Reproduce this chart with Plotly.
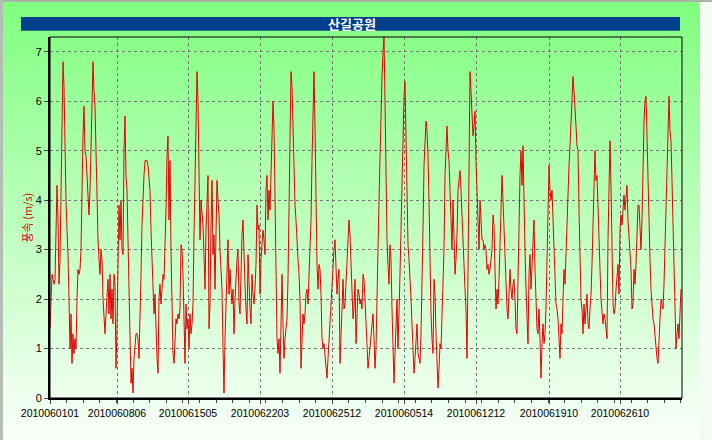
import plotly.graph_objects as go

# ---- data (wind speed, m/s), one value per hour-step ----
speed_part1 = [1.4,2.0,2.5,2.4,2.3,2.4,3.2,4.3,3.6,2.3,
 2.8,4.5,6.3,6.8,6.3,5.0,4.0,3.4,2.9,2.0,
 1.0,1.7,0.7,1.3,0.9,1.2,1.0,2.0,2.6,2.5,
 2.6,3.0,4.3,5.3,5.9,5.0,4.9,4.4,4.0,3.7,
 4.2,5.0,5.8,6.8,6.2,5.9,5.0,4.0,3.2,2.8,
 2.5,3.0,2.8,2.0,1.5,1.3,1.7,2.2,2.4,1.7,
 2.5,1.6,2.2,1.5,2.5,2.3,0.6,1.4,2.6,3.9,
 3.2,4.0,3.0,2.9,5.0,5.7,4.5,4.2,3.2,2.4,
 1.3,0.3,0.6,0.1,0.8,1.0,1.3,1.3,1.2,0.8,
 1.5,2.5,3.5,4.2,4.5,4.8,4.8,4.8,4.7,4.5,
 4.2,3.4,2.8,2.3,1.7,2.1,1.3,0.8,0.5,2.0,
 2.3,1.9,2.2,2.5,2.4,3.0,3.8,4.9,5.3,3.6,
 4.8,3.0,1.6,0.9,0.7,1.2,1.6,1.5,1.7,1.6,
 1.8,3.1,3.0,2.5,1.2,0.7,1.9,1.4,1.6,1.0,
 1.7,1.3,1.5,1.9,3.3,4.5,6.3,6.6,6.0,4.6,
 3.2,4.0,3.7,3.5,2.9,2.2,3.4,4.0,4.5,1.4,
 1.9]
speed_part2 = [3.5,4.4,2.9,3.3,2.2,3.0,4.4,4.0,3.7,3.0,
 2.7,2.2,1.0,0.1,1.2,2.0,2.6,3.2,2.1,2.6,
 2.2,1.9,2.2,1.3,2.0,2.5,2.8,3.0,1.9,1.7,
 2.7,3.3,3.6,2.6,2.3,1.8,1.5,2.9,2.2,1.8,
 1.5,2.5,2.1,1.9,2.2,2.7,3.9,3.4,3.5,2.1,
 2.8,3.1,3.4,3.2,2.9,4.2,4.5,3.6,4.2,3.8,
 4.7,5.3,6.0,5.5,4.0,2.5,1.2,0.9,1.2,0.5,
 1.5,2.5,1.5,0.8,1.2,1.4,1.6,2.4,3.6,5.5,
 6.6,6.3,5.4,4.6,3.9,3.6,3.1,2.8,2.5,2.0,
 0.6,1.3,1.7,1.5,1.7,2.1,2.2,1.9,2.5,2.9,
 3.6,4.8,5.8,6.6,5.5,4.0,2.7,2.2,2.7,2.6,
 2.1,1.2,1.0,1.1,0.9,0.6,0.4,0.8,1.2,1.5,
 1.8,2.4,2.9,3.0,3.2,2.8,2.1,2.4,2.6,0.7,
 1.5,1.8,2.4,1.8,1.9,2.4,2.9,3.4,3.6,3.3,
 2.8,2.3,1.6,1.8,2.4,1.1,1.8,2.2,2.1,1.9,
 2.0,1.8,2.5,2.4,2.0,1.6,0.9,0.6,0.8,1.0]
speed_part3 = [1.2,1.5,1.7,1.2,0.6,1.0,1.8,3.0,4.0,5.0,
 5.8,6.5,7.0,7.3,6.0,4.0,3.2,2.7,2.3,3.1,
 2.8,1.8,1.0,0.3,0.9,1.6,2.0,1.0,1.6,2.5,
 3.4,4.3,5.3,6.1,6.4,5.3,3.5,3.1,2.8,2.5,
 2.0,1.5,0.9,0.5,0.8,1.2,1.5,0.9,0.8,0.7,
 1.3,2.2,3.4,4.7,5.2,5.6,5.4,4.9,4.0,2.6,
 1.7,1.2,0.9,2.4,2.1,1.3,0.7,0.2,0.6,1.1,
 1.0,1.7,2.4,3.0,4.5,5.3,5.5,5.0,4.8,4.2,
 3.4,3.0,4.0,3.0,2.5,2.8,3.3,4.2,4.4,4.6,
 4.2,3.6,3.1,2.7,2.2,1.8,0.8,2.5,4.6,6.6,
 6.2,5.6,5.3,5.5,5.8,4.8,4.0,3.6,3.0,4.0,
 3.6,3.2,3.2,3.0,3.1,3.0,2.6,2.7,2.5,2.6,
 2.8,3.0,3.7,3.5,2.6,1.8,2.2,1.9,2.4,3.0,
 3.8,4.5,4.0,3.4,3.0,2.6,1.8,1.6,2.3,2.6,
 2.2,2.0,2.3,2.4,2.0,1.4,1.3,2.5,3.8,4.5,
 5.0,4.3,5.1,3.8,3.0,2.2,1.4,1.1,2.5,2.9]
speed_part4 = [2.2,2.8,3.3,3.6,2.6,1.9,1.4,1.3,1.8,1.2,
 0.4,1.1,1.5,1.1,1.3,1.8,2.8,3.9,4.7,4.2,
 4.0,4.2,3.5,2.8,2.2,1.9,1.8,1.6,1.2,0.8,
 1.5,1.3,2.0,2.6,2.3,3.0,3.3,3.9,4.7,5.1,
 5.5,6.0,6.5,6.2,5.7,5.5,5.1,5.0,3.8,2.4,
 2.0,1.8,1.3,1.9,1.5,1.8,2.1,1.5,1.4,1.8,
 2.1,2.7,3.4,4.4,5.0,4.4,4.5,3.9,3.4,2.6,
 2.0,1.8,1.5,1.7,1.6,1.4,1.2,3.2,4.8,5.2,
 4.3,3.0,1.9,1.7,1.8,2.2,2.5,2.7,2.1,3.4,
 3.7,3.5,3.8,4.1,3.8,4.0,4.3,3.6,3.3,3.0,
 2.6,1.8,1.9,2.6,2.3,2.7,3.2,3.9,3.9,3.2,
 3.0,3.6,4.8,5.6,6.0,6.1,5.3,4.2,3.5,2.8,
 2.2,1.8,1.6,1.5,1.2,0.9,0.8,0.7,1.3,1.6,
 2.0,1.9,1.8,2.3,3.0,3.8,4.5,5.5,6.1,5.4,
 5.2,4.4,3.4,2.4,1.5,1.0,1.3,1.5,1.2,1.9,
 2.2]

tick_labels = ["2010060101", "2010060806", "2010061505", "2010062203", "2010062512",
               "2010060514", "2010061212", "2010061910", "2010062610"]
tick_index = [0, 67, 138, 210, 282, 354, 426, 499, 570]
title_text = "산길공원"
y_title = "풍속 (m/s)"

speed = speed_part1 + speed_part2 + speed_part3 + speed_part4
idx = list(range(len(speed)))

W, H = 712, 440
ML, MR, MT, MB = 50, 30, 37, 42
PW, PH = W - ML - MR, H - MT - MB


def px_x(p):
    return (p - ML) / PW


def px_y(p):
    return (H - MB - p) / PH


fig = go.Figure()
fig.add_trace(go.Scatter(x=idx, y=speed, mode="lines",
                         line=dict(color="#e80000", width=1), hoverinfo="skip"))

shapes = []
# background gradient (green at top to near-white at bottom)
n = 110
for k in range(n):
    t0 = k / n
    t1 = (k + 1) / n
    tm = (t0 + t1) / 2
    r = int(128 + (250 - 128) * tm)
    col = f"rgb({r},255,{r})"
    y_top = 2 + (H - 2) * t0
    y_bot = 2 + (H - 2) * t1 + 0.6
    shapes.append(dict(type="rect", xref="paper", yref="paper", layer="below",
                       x0=px_x(0), x1=px_x(700), y0=px_y(y_bot), y1=px_y(y_top),
                       fillcolor=col, line=dict(width=0)))
# top grey frame line
shapes.append(dict(type="rect", xref="paper", yref="paper", layer="below",
                   x0=px_x(0), x1=px_x(712), y0=px_y(2), y1=px_y(0),
                   fillcolor="#a9b3a9", line=dict(width=0)))
# left grey strip
shapes.append(dict(type="rect", xref="paper", yref="paper", layer="below",
                   x0=px_x(0), x1=px_x(3), y0=px_y(440), y1=px_y(0),
                   fillcolor="#b4beb4", line=dict(width=0)))
# title bar
shapes.append(dict(type="rect", xref="paper", yref="paper", layer="above",
                   x0=px_x(21), x1=px_x(680), y0=px_y(30.7), y1=px_y(17),
                   fillcolor="#023f8c", line=dict(width=0)))
# thin plot frame (top/right)
shapes.append(dict(type="rect", xref="paper", yref="paper", layer="above",
                   x0=0, x1=1, y0=0, y1=1, line=dict(color="black", width=1)))

fig.update_layout(
    width=W, height=H,
    margin=dict(l=ML, r=MR, t=MT, b=MB, pad=0),
    paper_bgcolor="#f4fbf4",
    plot_bgcolor="rgba(0,0,0,0)",
    showlegend=False,
    shapes=shapes,
    font=dict(family="Liberation Sans, Arial, sans-serif", size=11, color="black"),
    annotations=[
        dict(text=f"<b>{title_text}</b>", xref="paper", yref="paper",
             x=px_x(352), y=px_y(24), xanchor="center", yanchor="middle",
             showarrow=False, font=dict(family="Noto Sans CJK KR", size=13, color="white")),
        dict(text=y_title, xref="paper", yref="paper",
             x=px_x(26), y=0.5, xanchor="center", yanchor="middle", textangle=-90,
             showarrow=False, font=dict(family="Noto Sans CJK KR", size=11, color="#d01010")),
    ],
)

fig.update_xaxes(
    range=[0, PW], tickmode="array", tickvals=tick_index, ticktext=tick_labels,
    showgrid=True, gridcolor="#737873", griddash="3px,3px", gridwidth=1,
    showline=True, linecolor="black", linewidth=2, zeroline=False,
    ticks="outside", ticklen=4, tickcolor="#444", tickwidth=1,
    tickfont=dict(size=10.5, family="Liberation Sans, Arial, sans-serif"),
    minor=dict(tickmode="linear", tick0=0, dtick=16.6, ticks="outside", ticklen=3,
               tickcolor="#444", showgrid=False),
)
fig.update_yaxes(
    range=[0, 7.3], tickmode="linear", tick0=0, dtick=1,
    showgrid=True, gridcolor="#737873", griddash="3px,3px", gridwidth=1,
    showline=True, linecolor="black", linewidth=2, zeroline=False,
    ticks="outside", ticklen=4, tickcolor="#444", tickwidth=1,
    tickfont=dict(size=11, family="Liberation Sans, Arial, sans-serif"),
)

fig.write_html("out.html")
